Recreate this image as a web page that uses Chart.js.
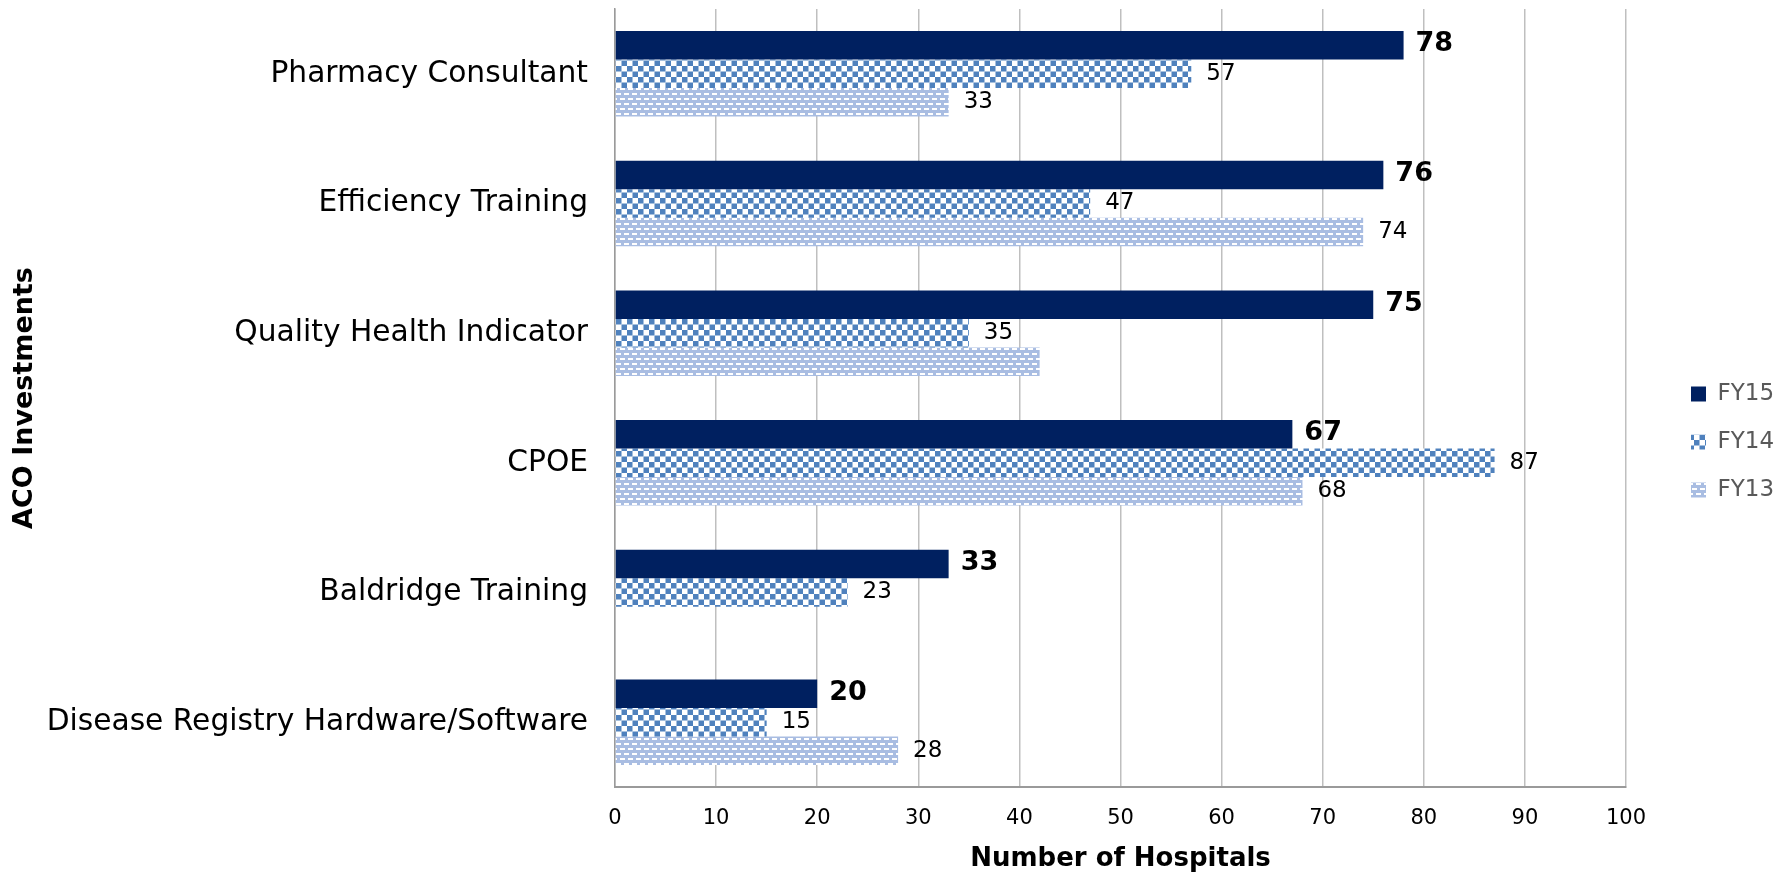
<!DOCTYPE html>
<html>
<head>
<meta charset="utf-8">
<script src="https://cdn.jsdelivr.net/npm/chart.js@4.4.1/dist/chart.umd.min.js"></script>
<style>
  html, body { margin: 0; padding: 0; background: #fff; }
  #wrap { width: 1787px; height: 875px; }
</style>
</head>
<body>
<div id="wrap"><canvas id="grafica"></canvas></div>
<script>
// datos
const categorias = ['Pharmacy Consultant', 'Efficiency Training', 'Quality Health Indicator', 'CPOE', 'Baldridge Training', 'Disease Registry Hardware/Software'];
const fy15 = [78, 76, 75, 67, 33, 20];
const fy14 = [57, 47, 35, 87, 23, 15];
const fy13 = [33, 74, 42, 68, null, 28];
const etiquetasFy13 = ['33', '74', '', '68', '', '28'];
const ticksX = [0, 10, 20, 30, 40, 50, 60, 70, 80, 90, 100];

const FONT = '"DejaVu Sans", Verdana, sans-serif';

// patron cuadriculado (FY14)
function patronCuadros() {
    const c = document.createElement('canvas');
    c.width = 11; c.height = 11;
    const g = c.getContext('2d');
    g.fillStyle = '#ffffff';
    g.fillRect(0, 0, 11, 11);
    g.fillStyle = '#4f81bd';
    g.fillRect(0, 0, 5.5, 5.5);
    g.fillRect(5.5, 5.5, 5.5, 5.5);
    return g.createPattern(c, 'repeat');
}

// patron de rayas discontinuas (FY13)
function patronRayas() {
    const c = document.createElement('canvas');
    c.width = 8; c.height = 10;
    const g = c.getContext('2d');
    g.fillStyle = '#a9bde2';
    g.fillRect(0, 0, 8, 10);
    g.fillStyle = '#ffffff';
    g.fillRect(0, 3, 5, 2);
    g.fillRect(4, 8, 5, 2);
    g.fillRect(0, 8, 1, 2);
    return g.createPattern(c, 'repeat');
}

// etiquetas de valor al final de cada barra
const etiquetas = {
    id: 'etiquetas',
    afterDatasetsDraw(chart) {
        const ctx = chart.ctx;
        ctx.save();
        ctx.textBaseline = 'middle';
        ctx.textAlign = 'left';
        ctx.fillStyle = '#000000';
        chart.data.datasets.forEach((ds, i) => {
            const meta = chart.getDatasetMeta(i);
            meta.data.forEach((bar, j) => {
                const v = ds.data[j];
                if (v === null) return;
                let txt = String(v);
                if (ds.label === 'FY13') txt = etiquetasFy13[j];
                if (!txt) return;
                if (i === 0) {
                    ctx.font = 'bold 27px ' + FONT;
                    ctx.fillText(txt, bar.x + 12, bar.y - 1);
                } else {
                    ctx.font = '23px ' + FONT;
                    ctx.fillText(txt, bar.x + 15, bar.y);
                }
            });
        });
        ctx.restore();
    }
};

// leyenda con ancho fijo a la derecha
const anchoLeyenda = {
    id: 'anchoLeyenda',
    beforeLayout(chart) {
        const lg = chart.legend;
        if (lg && !lg._parcheado) {
            const fitOrig = lg.fit;
            lg.fit = function () {
                fitOrig.call(this);
                this.width = 161;
            };
            lg._parcheado = true;
        }
    },
    afterLayout(chart) {
        const lg = chart.legend;
        if (lg) {
            lg.left = chart.chartArea.right + 40;
            lg.right = lg.left + 121;
        }
    }
};

const ctx = document.getElementById('grafica').getContext('2d');
const chart = new Chart(ctx, {
    type: 'bar',
    data: {
        labels: categorias,
        datasets: [
            { label: 'FY15', data: fy15, backgroundColor: '#002060' },
            { label: 'FY14', data: fy14, backgroundColor: patronCuadros() },
            { label: 'FY13', data: fy13, backgroundColor: patronRayas() }
        ]
    },
    options: {
        indexAxis: 'y',
        responsive: true,
        maintainAspectRatio: false,
        animation: false,
        layout: { padding: { top: 9, right: 0, left: 0, bottom: 0 } },
        datasets: {
            bar: { categoryPercentage: 0.66, barPercentage: 1.0 }
        },
        plugins: {
            legend: {
                display: true,
                position: 'right',
                labels: {
                    boxWidth: 15,
                    boxHeight: 15,
                    padding: 25,
                    color: '#595959',
                    font: { family: FONT, size: 23 }
                }
            },
            tooltip: { enabled: false }
        },
        scales: {
            x: {
                min: 0,
                max: 100,
                afterBuildTicks: (scale) => { scale.ticks = ticksX.map(v => ({ value: v })); },
                afterFit: (scale) => { scale.height = 88; },
                grid: { color: '#bfbfbf', lineWidth: 1.5, drawTicks: false },
                border: { color: '#9a9a9a', width: 2 },
                ticks: {
                    color: '#000000',
                    padding: 19,
                    font: { family: FONT, size: 21 }
                },
                title: {
                    display: true,
                    text: 'Number of Hospitals',
                    color: '#000000',
                    padding: { top: 6, bottom: 0 },
                    font: { family: FONT, size: 26, weight: 'bold' }
                }
            },
            y: {
                afterFit: (scale) => {
                    scale.width = 615;
                    scale.paddingTop = 0;
                    scale.paddingBottom = 0;
                },
                grid: { display: false },
                border: { color: '#9a9a9a', width: 1.5 },
                ticks: {
                    color: '#000000',
                    padding: 19,
                    font: { family: FONT, size: 29.7 }
                },
                title: {
                    display: true,
                    text: 'ACO Investments',
                    color: '#000000',
                    padding: { top: 9, bottom: 0 },
                    font: { family: FONT, size: 27, weight: 'bold' }
                }
            }
        }
    },
    plugins: [anchoLeyenda, etiquetas]
});
</script>
</body>
</html>
